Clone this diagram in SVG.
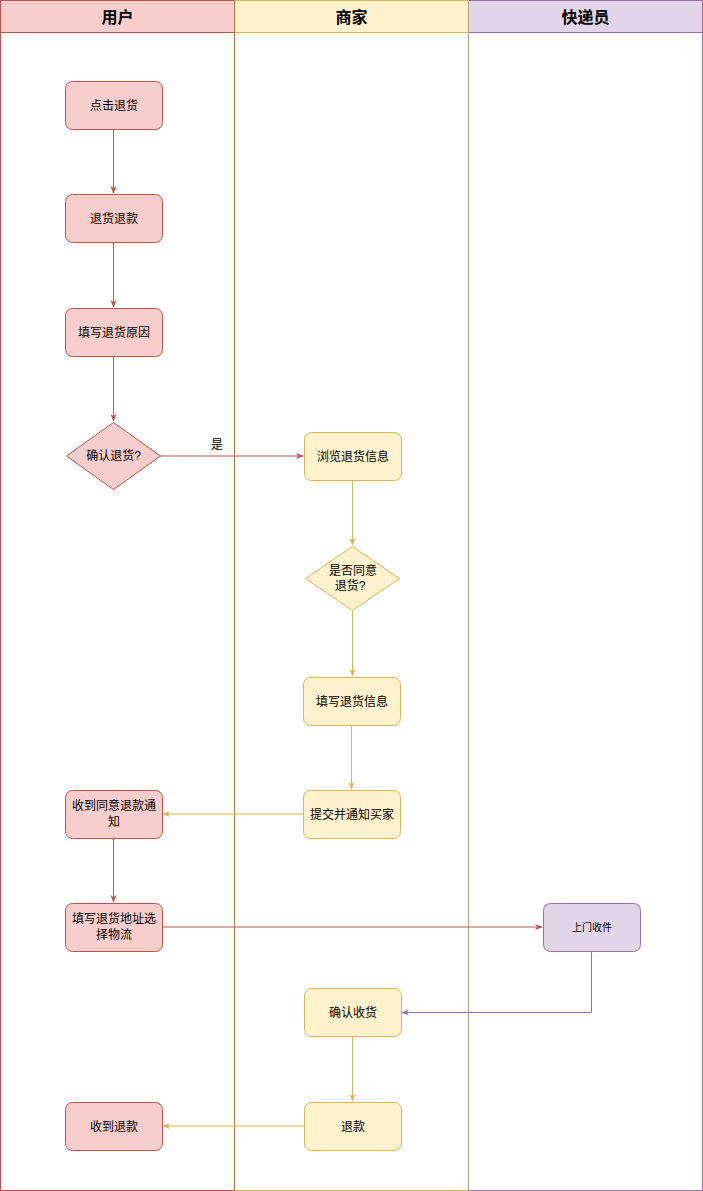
<svg xmlns="http://www.w3.org/2000/svg" width="703" height="1191" viewBox="0 0 703 1191">
<style>
text{font-family:"Liberation Sans","Noto Sans CJK SC",sans-serif;font-size:12px;fill:#000;text-anchor:middle;dominant-baseline:central}
.hd{font-size:16px;font-weight:bold}
.r{fill:#f8cecc;stroke:#b85450;stroke-width:1}
.y{fill:#fff2cc;stroke:#d6b656;stroke-width:1}
.p{fill:#e1d5e7;stroke:#9673a6;stroke-width:1}
.lr{fill:none;stroke:#b85450}
.ly{fill:none;stroke:#d6b656}
.lp{fill:none;stroke:#9673a6}
</style>
<defs>
<marker id="ar" viewBox="0 0 10 10" refX="9" refY="5" markerWidth="8" markerHeight="8" orient="auto" markerUnits="userSpaceOnUse"><path d="M0,1 L10,5 L0,9 L3,5 Z" fill="#b85450"/></marker>
<marker id="ay" viewBox="0 0 10 10" refX="9" refY="5" markerWidth="8" markerHeight="8" orient="auto" markerUnits="userSpaceOnUse"><path d="M0,1 L10,5 L0,9 L3,5 Z" fill="#d6b656"/></marker>
<marker id="ap" viewBox="0 0 10 10" refX="9" refY="5" markerWidth="8" markerHeight="8" orient="auto" markerUnits="userSpaceOnUse"><path d="M0,1 L10,5 L0,9 L3,5 Z" fill="#9673a6"/></marker>
</defs>
<rect width="703" height="1191" fill="#fff"/>
<g id="lane-user">
<rect x="0.5" y="0.5" width="234" height="1190" fill="none" stroke="#b85450"/>
<rect x="0.5" y="0.5" width="234" height="32" class="r"/>
<text x="117.5" y="17" class="hd">用户</text>
</g>
<g id="lane-merchant">
<rect x="234.5" y="0.5" width="234" height="1190" fill="none" stroke="#d6b656"/>
<rect x="234.5" y="0.5" width="234" height="32" class="y"/>
<text x="351.5" y="17" class="hd">商家</text>
</g>
<g id="lane-courier">
<rect x="468.5" y="0.5" width="234" height="1190" fill="none" stroke="#9673a6"/>
<rect x="468.5" y="0.5" width="234" height="32" class="p"/>
<text x="585.5" y="17" class="hd">快递员</text>
</g>
<line x1="234.5" y1="0" x2="234.5" y2="1191" stroke="#b8763f"/>
<line x1="468.5" y1="0" x2="468.5" y2="1191" stroke="#c09a7a"/>
<g id="connectors">
<path class="lr" d="M113.5,130 V193" marker-end="url(#ar)"/>
<path class="lr" d="M113.5,243 V307" marker-end="url(#ar)"/>
<path class="lr" d="M113.5,357 V421" marker-end="url(#ar)"/>
<path class="lr" d="M160,456 H303" marker-end="url(#ar)"/>
<text x="217" y="445">是</text>
<path class="ly" d="M352.5,480 V545" marker-end="url(#ay)"/>
<path class="ly" d="M352.5,611 V676" marker-end="url(#ay)"/>
<path class="ly" d="M351.5,725 V789" marker-end="url(#ay)"/>
<path class="ly" d="M303,814 H163" marker-end="url(#ay)"/>
<path class="lr" d="M113.5,838 V902" marker-end="url(#ar)"/>
<path class="lr" d="M162,927 H542" marker-end="url(#ar)"/>
<path class="lp" d="M591.5,951 V1012.5 H402" marker-end="url(#ap)"/>
<path class="ly" d="M352.5,1036 V1101" marker-end="url(#ay)"/>
<path class="ly" d="M304,1126 H163" marker-end="url(#ay)"/>
</g>
<g id="n1"><rect x="65.5" y="81.5" width="97" height="48" rx="7" class="r"/><text x="114" y="105.5">点击退货</text></g>
<g id="n2"><rect x="65.5" y="194.5" width="97" height="48" rx="7" class="r"/><text x="114" y="218.5">退货退款</text></g>
<g id="n3"><rect x="65.5" y="308.5" width="97" height="48" rx="7" class="r"/><text x="114" y="332.5">填写退货原因</text></g>
<g id="n4"><path d="M113.5,422.5 L160.5,456 L113.5,489.5 L66.5,456 Z" class="r"/><text x="113.5" y="456">确认退货?</text></g>
<g id="n5"><rect x="304.5" y="432.5" width="97" height="48" rx="7" class="y"/><text x="353" y="456.5">浏览退货信息</text></g>
<g id="n6"><path d="M352.5,546.5 L399.5,578.5 L352.5,610.5 L305.5,578.5 Z" class="y"/><text x="353" y="571">是否同意</text><text x="350" y="586">退货?</text></g>
<g id="n7"><rect x="303.5" y="677.5" width="97" height="48" rx="7" class="y"/><text x="352" y="701.5">填写退货信息</text></g>
<g id="n8"><rect x="303.5" y="790.5" width="97" height="48" rx="7" class="y"/><text x="352" y="814.5">提交并通知买家</text></g>
<g id="n9"><rect x="65.5" y="790.5" width="97" height="48" rx="7" class="r"/><text x="114" y="806">收到同意退款通</text><text x="114" y="822">知</text></g>
<g id="n10"><rect x="65.5" y="903.5" width="97" height="48" rx="7" class="r"/><text x="114" y="919">填写退货地址选</text><text x="114" y="935">择物流</text></g>
<g id="n11"><rect x="543.5" y="903.5" width="97" height="48" rx="7" class="p"/><text x="592" y="927.5" style="font-size:10px">上门收件</text></g>
<g id="n12"><rect x="304.5" y="988.5" width="97" height="48" rx="7" class="y"/><text x="353" y="1012.5">确认收货</text></g>
<g id="n13"><rect x="304.5" y="1102.5" width="97" height="48" rx="7" class="y"/><text x="353" y="1126.5">退款</text></g>
<g id="n14"><rect x="65.5" y="1102.5" width="97" height="48" rx="7" class="r"/><text x="114" y="1126.5">收到退款</text></g>
</svg>
